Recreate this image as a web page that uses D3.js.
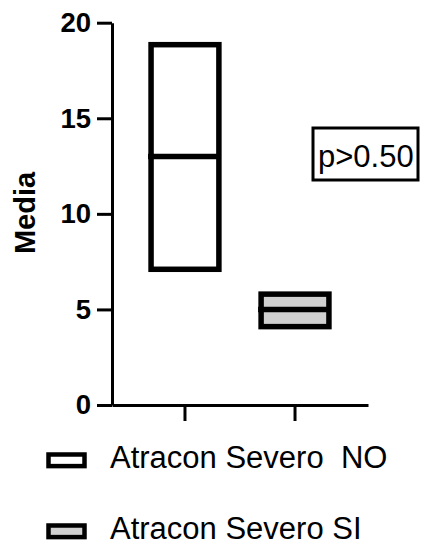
<html>
<head>
    <script src="https://d3js.org/d3.v7.min.js"></script>
    <style>
        body { margin: 0; background: #fff; }
        svg text { font-family: "Liberation Sans", Arial, sans-serif; }
    </style>
</head>
<body>
    <div id="chart">
        <svg width="427" height="548"></svg>
    </div>
    <script>
        // data
        var categories = ['Atracon Severo  NO', 'Atracon Severo SI']
        var lows = [7.1, 4.1]
        var highs = [18.85, 5.8]
        var means = [13, 5]
        var fills = ['#ffffff', '#d0d0d0']
        var yTicks = [0, 5, 10, 15, 20]
        var yLabel = 'Media'
        var pText = 'p>0.50'

        var svg = d3.select('#chart svg')

        var yScale = d3.scaleLinear()
            .domain([0, 20])
            .range([405, 22.7])

        var xScale = d3.scaleBand()
            .domain(categories)
            .range([112, 368])
            .paddingInner(0.3836)
            .paddingOuter(0.355)

        var rows = categories.map(function(c, i) {
            return { cat: c, low: lows[i], high: highs[i], mean: means[i], fill: fills[i] }
        })

        // y axis
        var yAxis = d3.axisLeft(yScale)
            .tickValues(yTicks)
            .tickSize(15)
            .tickSizeOuter(0)
            .tickPadding(6)
        var yg = svg.append('g')
            .attr('transform', 'translate(112, 0)')
            .call(yAxis)
        yg.selectAll('path, line').attr('stroke', '#000').attr('stroke-width', 3)
        yg.selectAll('text')
            .attr('fill', '#000')
            .style('font-size', '27.5px')
            .style('font-weight', 'bold')

        // x axis
        var xAxis = d3.axisBottom(xScale)
            .tickSize(16)
            .tickSizeOuter(0)
            .tickFormat('')
        var xg = svg.append('g')
            .attr('transform', 'translate(0, 405)')
            .call(xAxis)
        xg.selectAll('path, line').attr('stroke', '#000').attr('stroke-width', 3)

        // floating bars
        svg.selectAll('rect.bar')
            .data(rows)
            .enter()
            .append('rect')
            .classed('bar', true)
            .attr('x', function(d) { return xScale(d.cat) })
            .attr('width', xScale.bandwidth())
            .attr('y', function(d) { return yScale(d.high) })
            .attr('height', function(d) { return yScale(d.low) - yScale(d.high) })
            .attr('fill', function(d) { return d.fill })
            .attr('stroke', '#000')
            .attr('stroke-width', 5.5)

        svg.selectAll('line.mean')
            .data(rows)
            .enter()
            .append('line')
            .classed('mean', true)
            .attr('x1', function(d) { return xScale(d.cat) - 3 })
            .attr('x2', function(d) { return xScale(d.cat) + xScale.bandwidth() })
            .attr('y1', function(d) { return yScale(d.mean) })
            .attr('y2', function(d) { return yScale(d.mean) })
            .attr('stroke', '#000')
            .attr('stroke-width', 5.5)

        // y label
        svg.append('text')
            .attr('transform', 'translate(34.5, 213) rotate(-90)')
            .attr('text-anchor', 'middle')
            .style('font-size', '29px')
            .style('font-weight', 'bold')
            .text(yLabel)

        // p value box
        svg.append('rect')
            .attr('x', 313)
            .attr('y', 128)
            .attr('width', 105)
            .attr('height', 52)
            .attr('fill', '#fff')
            .attr('stroke', '#000')
            .attr('stroke-width', 3)
        svg.append('text')
            .attr('x', 318)
            .attr('y', 166.5)
            .style('font-size', '31px')
            .text(pText)

        // legend
        var legend = svg.selectAll('g.legend')
            .data(rows)
            .enter()
            .append('g')
            .classed('legend', true)
            .attr('transform', function(d, i) { return 'translate(0,' + (460.3 + i * 71) + ')' })
        legend.append('rect')
            .attr('x', 48.5)
            .attr('y', -5.8)
            .attr('width', 36)
            .attr('height', 11.6)
            .attr('fill', function(d) { return d.fill })
            .attr('stroke', '#000')
            .attr('stroke-width', 4.5)
        legend.append('text')
            .attr('x', 110)
            .attr('y', 8)
            .attr('xml:space', 'preserve')
            .style('white-space', 'pre')
            .style('font-size', '31px')
            .text(function(d) { return d.cat })
    </script>
</body>
</html>
